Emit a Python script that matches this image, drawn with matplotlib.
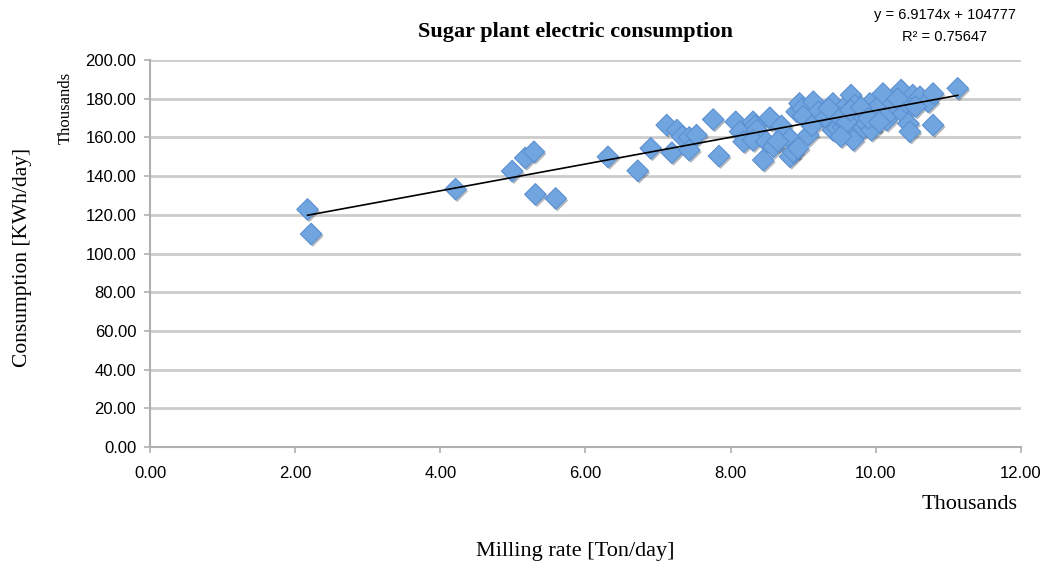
import numpy as np
import matplotlib.pyplot as plt
import matplotlib.patheffects as pe

# milling rate (thousand ton/day) and consumption (thousand KWh/day)
milling = [2.17, 2.22, 4.21, 4.99, 5.17, 5.29, 5.31, 5.59, 6.31, 6.72,
           6.90, 7.12, 7.19, 7.26, 7.33, 7.43, 7.43, 7.53, 7.76, 7.84,
           8.07, 8.13, 8.18, 8.31, 8.34, 8.36, 8.31, 8.45, 8.49, 8.56,
           8.54, 8.59, 8.75, 8.79, 8.82, 8.86, 8.91, 8.93, 8.95, 8.99,
           9.07, 9.14, 9.21, 9.30, 9.39, 9.41, 9.41, 9.47, 9.55, 9.58,
           9.62, 9.66, 9.71, 9.69, 9.74, 9.78, 9.83, 9.87, 9.92, 9.94,
           10.02, 10.10, 10.15, 10.20, 10.24, 10.35, 10.38, 10.42, 10.45, 10.47,
           10.51, 10.61, 10.72, 10.79, 10.79, 11.13,
           9.50, 9.60, 9.65, 9.80, 9.90, 10.05, 9.35, 9.52, 10.30, 10.55,
           8.70, 9.00, 9.12, 8.65]
consumption = [122.8, 110.1, 133.3, 142.6, 149.4, 152.6, 130.6, 128.5, 150.0, 142.8,
               154.4, 166.4, 152.1, 163.8, 160.5, 160.0, 153.5, 161.2, 169.3, 150.4,
               168.1, 163.0, 157.8, 168.1, 166.0, 163.8, 158.5, 148.3, 157.8, 169.0,
               170.2, 155.2, 162.0, 160.4, 150.0, 152.5, 173.3, 154.4, 177.6, 175.0,
               161.2, 178.5, 173.3, 170.0, 167.2, 177.6, 163.8, 165.0, 165.5, 176.0,
               162.1, 181.9, 176.7, 158.7, 172.0, 170.7, 165.0, 167.2, 177.6, 163.8,
               175.5, 182.7, 169.0, 173.0, 177.6, 184.5, 172.4, 178.0, 167.2, 163.0,
               181.9, 181.0, 178.5, 182.7, 166.4, 185.4,
               170.5, 168.0, 174.0, 175.5, 170.0, 168.0, 175.0, 160.5, 180.0, 176.0,
               166.0, 171.0, 166.0, 158.0]

slope = 6.9174
intercept = 104777
x_ticks = [0, 2, 4, 6, 8, 10, 12]
y_ticks = [0, 20, 40, 60, 80, 100, 120, 140, 160, 180, 200]

serif = ['Liberation Serif', 'DejaVu Serif']
narrow = ['Liberation Sans Narrow', 'Liberation Sans', 'DejaVu Sans']

fig = plt.figure(figsize=(10.53, 5.69), dpi=100)
ax = fig.add_axes([0.1425, 0.2144, 0.827, 0.680])

ax.scatter(milling, consumption, marker='D', s=120, color='#70a5e0',
           edgecolors='#5b90d2', linewidths=0.8, zorder=3,
           path_effects=[pe.SimplePatchShadow(offset=(1.2, -1.5), alpha=0.35),
                         pe.Normal()])

# linear trend line (x in tons, y in KWh, shown in thousands)
xt = np.array([min(milling), max(milling)])
yt = (slope * xt * 1000 + intercept) / 1000
ax.plot(xt, yt, color='black', lw=1.2, zorder=4)

ax.set_xlim(0, 12)
ax.set_ylim(0, 200)
ax.set_xticks(x_ticks)
ax.set_yticks(y_ticks)
ax.set_xticklabels(['%.2f' % v for v in x_ticks], family=narrow, fontsize=12)
ax.set_yticklabels(['%.2f' % v for v in y_ticks], family=narrow, fontsize=12)
ax.yaxis.grid(True, color='#cccccc', lw=2)
ax.set_axisbelow(True)
for s in ['top', 'right']:
    ax.spines[s].set_visible(False)
for s in ['left', 'bottom']:
    ax.spines[s].set_color('#b0b0b0')
    ax.spines[s].set_linewidth(1.5)
ax.tick_params(axis='both', colors='#b0b0b0', length=4, width=1.2,
               labelcolor='black')
ax.tick_params(axis='x', pad=10)
ax.tick_params(axis='y', pad=6)

fig.text(0.546, 0.944, 'Sugar plant electric consumption', ha='center',
         va='center', family=serif, fontsize=16, fontweight='bold')
fig.text(0.897, 0.974, 'y = 6.9174x + 104777', ha='center', va='center',
         family=narrow, fontsize=10.5)
fig.text(0.897, 0.935, 'R² = 0.75647', ha='center', va='center',
         family=narrow, fontsize=10.5)
fig.text(0.062, 0.810, 'Thousands', rotation=90, ha='center', va='center',
         family=serif, fontsize=12)
fig.text(0.021, 0.547, 'Consumption [KWh/day]', rotation=90, ha='center',
         va='center', family=serif, fontsize=15.5)
fig.text(0.921, 0.113, 'Thousands', ha='center', va='center',
         family=serif, fontsize=16)
fig.text(0.546, 0.030, 'Milling rate [Ton/day]', ha='center', va='center',
         family=serif, fontsize=16)

fig.savefig('out.png', dpi=100)
